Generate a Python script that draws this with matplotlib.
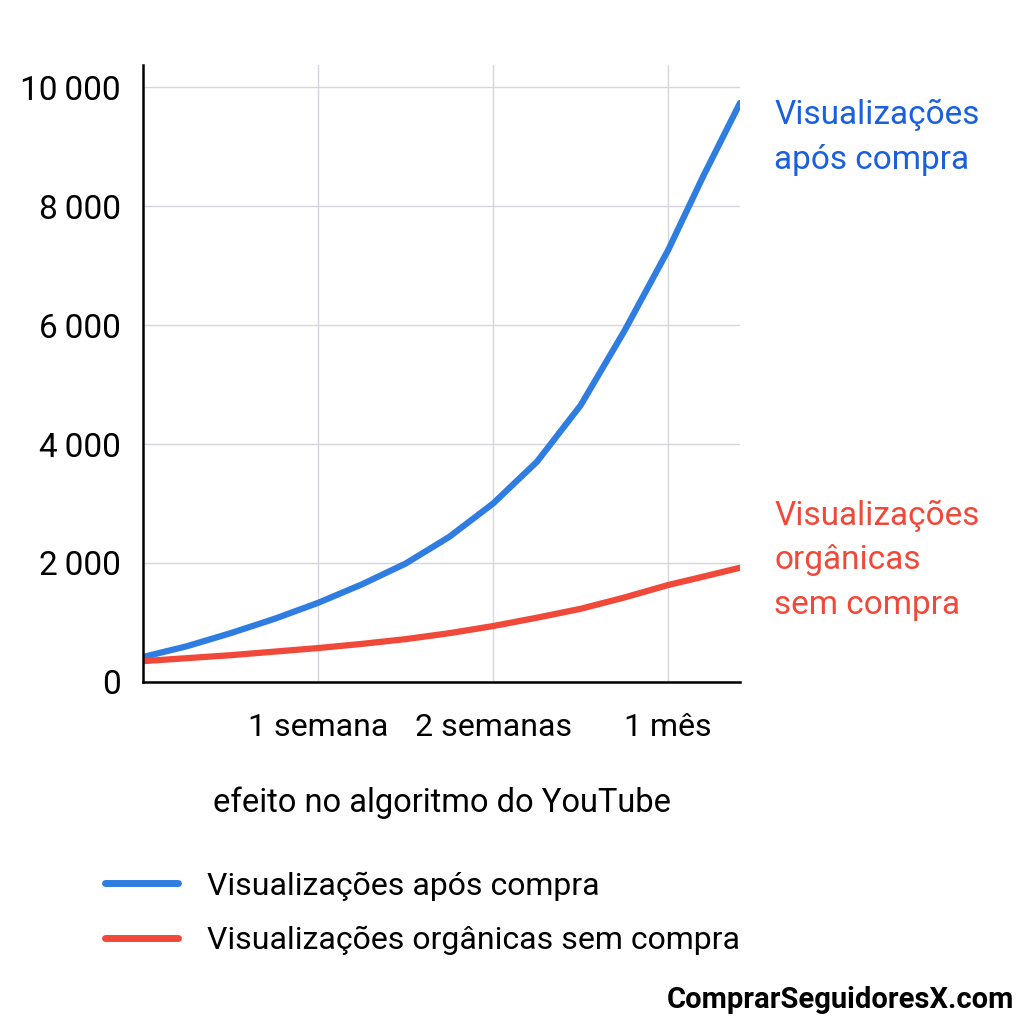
import matplotlib
matplotlib.use('Agg')
import matplotlib.pyplot as plt
from matplotlib.lines import Line2D

plt.rcParams['font.family'] = ['Roboto', 'DejaVu Sans']

# time axis: 0 = start, 1 = 1 semana, 2 = 2 semanas, 3 = 1 mes
x = [0, 0.25, 0.5, 0.75, 1.0, 1.25, 1.5, 1.75, 2.0, 2.25, 2.5, 2.75, 3.0, 3.2, 3.41]
blue = [420, 600, 820, 1060, 1330, 1640, 1990, 2440, 3000, 3700, 4650, 5900, 7260, 8500, 9730]
red = [350, 400, 450, 510, 570, 640, 720, 820, 940, 1080, 1230, 1420, 1630, 1770, 1920]

xticks = [1, 2, 3]
xlabels = ['1 semana', '2 semanas', '1 mês']
yticks = [0, 2000, 4000, 6000, 8000, 10000]
ylabels = ['0', '2\u2009000', '4\u2009000', '6\u2009000', '8\u2009000', '10\u2009000']

blue_c = '#2f7de1'
red_c = '#f0493a'

fig = plt.figure(figsize=(10.24, 10.24), dpi=100)
ax = fig.add_axes([0.1396, 0.334, 0.583, 0.6025])
ax.plot(x, blue, color=blue_c, lw=4.5, solid_capstyle='round', solid_joinstyle='round')
ax.plot(x, red, color=red_c, lw=4.5, solid_capstyle='round', solid_joinstyle='round')
ax.set_xlim(0, 3.41)
ax.set_ylim(0, 10370)
ax.set_xticks(xticks)
ax.set_xticklabels(xlabels, fontsize=23)
ax.set_yticks(yticks)
ax.set_yticklabels(ylabels, fontsize=24)
ax.tick_params(axis='x', length=0, pad=22)
ax.tick_params(axis='y', length=0, pad=16)
ax.grid(True, color='#d6d6de', lw=1)
for s in ['top', 'right']:
    ax.spines[s].set_visible(False)
ax.spines['left'].set_linewidth(1.8)
ax.spines['bottom'].set_linewidth(1.8)

fig.text(0.756, 0.866, 'Visualizações\napós compra', color='#1a5fe0', fontsize=24,
         va='center', ha='left', linespacing=1.5)
fig.text(0.756, 0.453, 'Visualizações\norgânicas\nsem compra', color=red_c, fontsize=24,
         va='center', ha='left', linespacing=1.5)
fig.text(0.432, 0.216, 'efeito no algoritmo do YouTube', fontsize=23.5, ha='center', va='center')

handles = [Line2D([], [], color=blue_c, lw=5, solid_capstyle='round'),
           Line2D([], [], color=red_c, lw=5, solid_capstyle='round')]
fig.legend(handles, ['Visualizações após compra', 'Visualizações orgânicas sem compra'],
           loc='center left', bbox_to_anchor=(0.074, 0.108), frameon=False, fontsize=23,
           handlelength=2.3, handletextpad=0.9, labelspacing=0.8)
fig.text(0.99, 0.023, 'ComprarSeguidoresX.com', fontsize=21, fontweight='bold',
         ha='right', va='center')

fig.savefig('out.png', dpi=100)
